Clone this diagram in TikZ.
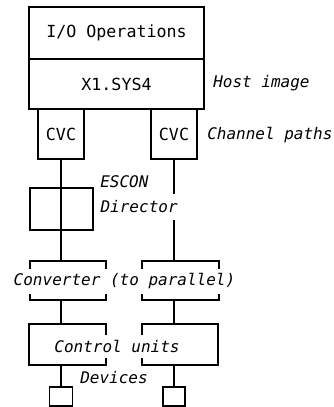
\documentclass[tikz,border=0pt]{standalone}
\usepackage{fontspec}
\setmonofont{DejaVu Sans Mono}
\usetikzlibrary{calc}

\begin{document}
\begin{tikzpicture}[x=0.75pt,y=0.75pt,yscale=-1,xscale=1,
    box/.style={draw,line width=1.4pt,inner sep=0pt,font=\fontsize{12.5}{14}\selectfont\ttfamily},
    wire/.style={line width=1.4pt},
    note/.style={inner sep=0pt,font=\fontsize{12}{14}\selectfont\ttfamily\itshape},
    mask/.style={note,fill=white,inner xsep=1pt}]
            \useasboundingbox (0,0) rectangle (333,407);
            % host side
            \node [box,minimum width=131.25pt,minimum height=39pt] (io) at (116.5,33) {I/O Operations};
            \node [box,minimum width=131.25pt,minimum height=37.5pt] (host) at (116.5,84) {X1.SYS4};
            \node [box,minimum width=34.5pt,minimum height=37.5pt] (cvcL) at (61,134) {CVC};
            \node [box,minimum width=34.5pt,minimum height=37.5pt] (cvcR) at (174,134) {CVC};
            % switch, converters, control units, devices
            \node [box,minimum width=47.25pt,minimum height=31.5pt] (esc) at (61.5,209) {};
            \node [box,minimum width=57pt,minimum height=29.25pt] (convL) at (68,280.5) {};
            \node [box,minimum width=57.75pt,minimum height=29.25pt] (convR) at (180.5,280.5) {};
            \node [box,minimum width=57.75pt,minimum height=30.75pt] (ctlL) at (67.5,344.5) {};
            \node [box,minimum width=57pt,minimum height=30.75pt] (ctlR) at (180,344.5) {};
            \node [box,minimum width=17.25pt,minimum height=14.25pt] (devL) at (61,396.5) {};
            \node [box,minimum width=16.5pt,minimum height=14.25pt] (devR) at (174,396.5) {};
            % paths
            \draw [wire] (cvcL.south) -- (cvcL.south |- convL.north);
            \draw [wire] (cvcR.south) -- (cvcR.south |- convR.north);
            \draw [wire] (cvcL.south |- convL.south) -- (cvcL.south |- ctlL.north);
            \draw [wire] (cvcR.south |- convR.south) -- (cvcR.south |- ctlR.north);
            \draw [wire] (devL.north |- ctlL.south) -- (devL.north);
            \draw [wire] (devR.north |- ctlR.south) -- (devR.north);
            % labels
            \node [note,anchor=west] (hostlbl) at (213,83) {Host image};
            \node [note,anchor=west] (chanlbl) at (207,135) {Channel paths};
            \node [note,anchor=west] (esclbl) at (100,182) {ESCON};
            \node [mask,anchor=west,minimum height=19.5pt] (dirlbl) at (99,207) {Director};
            \node [mask,minimum height=18.75pt] (convlbl) at (124.5,281) {Converter (to parallel)};
            \node [mask,minimum height=17.25pt] (ctllbl) at (117,346.5) {Control units};
            \node [note,anchor=west] (devlbl) at (80,378) {Devices};
        \end{tikzpicture}
\end{document}
